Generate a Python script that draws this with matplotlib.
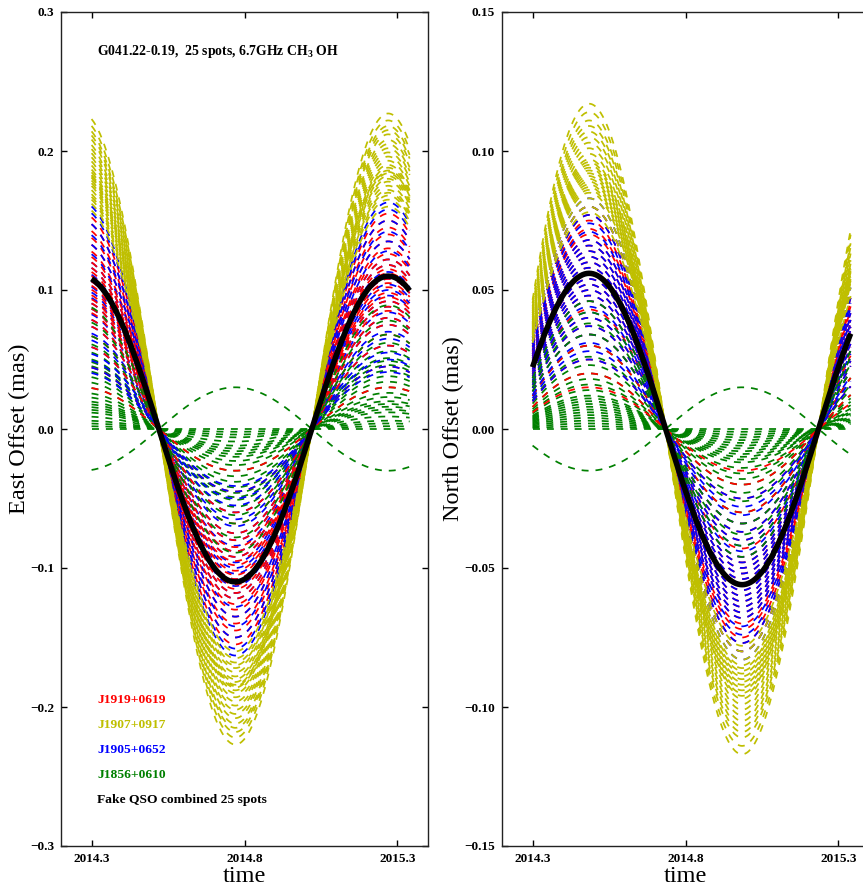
import numpy as np
import matplotlib
matplotlib.use("Agg")
import matplotlib.pyplot as plt

plt.rcParams['font.family'] = ['Liberation Serif', 'DejaVu Serif']
plt.rcParams['mathtext.fontset'] = 'custom'
plt.rcParams['mathtext.rm'] = 'Liberation Serif:bold'
plt.rcParams['mathtext.default'] = 'rm'

# ---------------- data ----------------
calibrators = ['J1919+0619', 'J1907+0917', 'J1905+0652', 'J1856+0610']
cal_colors = ['#ff0000', '#bfbf00', '#0000ff', '#008000']

# parallax-curve amplitudes (mas) of the 25 spots, per calibrator
east_red = [0.155, 0.150, 0.145, 0.140, 0.135, 0.130, 0.126, 0.122, 0.118, 0.115,
            0.112, 0.108, 0.105, 0.102, 0.098, 0.095, 0.092, 0.088, 0.085, 0.080,
            0.075, 0.068, 0.060, 0.045, 0.030]
east_yellow = [0.227, 0.222, 0.218, 0.215, 0.212, 0.208, 0.205, 0.202, 0.199, 0.196,
               0.193, 0.190, 0.188, 0.186, 0.185, 0.184, 0.182, 0.180, 0.178, 0.175,
               0.172, 0.170, 0.168, 0.165, 0.160]
east_blue = [0.163, 0.158, 0.150, 0.142, 0.135, 0.128, 0.122, 0.118, 0.113, 0.108,
             0.104, 0.100, 0.096, 0.092, 0.088, 0.084, 0.080, 0.075, 0.070, 0.065,
             0.060, 0.055, 0.050, 0.045, 0.041]
east_green = [-0.030, 0.000, 0.002, 0.004, 0.006, 0.009, 0.012, 0.014, 0.016, 0.018,
              0.020, 0.023, 0.026, 0.030, 0.034, 0.038, 0.042, 0.046, 0.049, 0.051,
              0.056, 0.062, 0.068, 0.078, 0.089]

north_red = [0.080, 0.077, 0.075, 0.072, 0.070, 0.068, 0.066, 0.064, 0.062, 0.060,
             0.058, 0.056, 0.054, 0.052, 0.050, 0.048, 0.046, 0.043, 0.040, 0.037,
             0.034, 0.030, 0.025, 0.020, 0.015]
north_yellow = [0.117, 0.114, 0.111, 0.109, 0.107, 0.105, 0.103, 0.101, 0.099, 0.097,
                0.096, 0.095, 0.094, 0.093, 0.092, 0.091, 0.090, 0.089, 0.088, 0.087,
                0.086, 0.085, 0.083, 0.080, 0.078]
north_blue = [0.083, 0.080, 0.077, 0.074, 0.071, 0.068, 0.066, 0.064, 0.062, 0.060,
              0.058, 0.056, 0.054, 0.052, 0.050, 0.048, 0.046, 0.044, 0.042, 0.040,
              0.037, 0.034, 0.031, 0.028, 0.025]
north_green = [-0.015, 0.000, 0.001, 0.002, 0.003, 0.004, 0.005, 0.006, 0.007, 0.008,
               0.009, 0.010, 0.011, 0.012, 0.014, 0.016, 0.018, 0.020, 0.023, 0.026,
               0.030, 0.034, 0.038, 0.042, 0.046]

combined_east_amp = 0.110
combined_north_amp = 0.056
east_zero_epoch = 2015.02    # rising zero crossing of East offset (yr)
north_zero_epoch = 2014.235  # rising zero crossing of North offset (yr)
t_start, t_end = 2014.30, 2015.34

xticks = [2014.3, 2014.8, 2015.3]
xtick_labels = ['2014.3', '2014.8', '2015.3']
east_yticks = [-0.3, -0.2, -0.1, 0.0, 0.1, 0.2, 0.3]
east_ytick_labels = ['\u22120.3', '\u22120.2', '\u22120.1', '0.0', '0.1', '0.2', '0.3']
north_yticks = [-0.15, -0.10, -0.05, 0.00, 0.05, 0.10, 0.15]
north_ytick_labels = ['\u22120.15', '\u22120.10', '\u22120.05', '0.00', '0.05', '0.10', '0.15']

title_text = 'G041.22-0.19,  25 spots, 6.7GHz CH$_3$ OH'
combined_label = 'Fake QSO combined 25 spots'

# ---------------- plot ----------------
t = np.linspace(t_start, t_end, 300)
east_phase = np.sin(2 * np.pi * (t - east_zero_epoch))
north_phase = np.sin(2 * np.pi * (t - north_zero_epoch))

east_sets = [east_red, east_yellow, east_blue, east_green]
north_sets = [north_red, north_yellow, north_blue, north_green]

W, H = 863, 886
fig = plt.figure(figsize=(W / 100, H / 100), dpi=100)
ax_w = (428 - 61) / W
ax_h = (846 - 12) / H
ax_b = (H - 846) / H
axE = fig.add_axes([61 / W, ax_b, ax_w, ax_h])
axN = fig.add_axes([502 / W, ax_b, ax_w, ax_h])

for ax, sets, phase, amp_c in [(axE, east_sets, east_phase, combined_east_amp),
                               (axN, north_sets, north_phase, combined_north_amp)]:
    for i in range(25):
        for c, s in enumerate(sets):
            ax.plot(t, s[i] * phase, color=cal_colors[c], lw=1.25,
                    linestyle=(0, (4, 4)))
    ax.plot(t, amp_c * phase, color='black', lw=4.0, solid_capstyle='butt')
    ax.set_xlim(2014.2, 2015.4)
    ax.set_xticks(xticks, labels=xtick_labels)
    ax.tick_params(direction='in', top=True, right=True, length=4, width=1,
                   labelsize=9.5, pad=5)
    ax.set_xlabel('time', fontsize=17.5, labelpad=1)
    for sp in ax.spines.values():
        sp.set_linewidth(1.0)
        sp.set_color('#222222')

axE.set_ylim(-0.3, 0.3)
axE.set_yticks(east_yticks, labels=east_ytick_labels)
axN.set_ylim(-0.15, 0.15)
axN.set_yticks(north_yticks, labels=north_ytick_labels)
for ax in (axE, axN):
    for lab in ax.get_xticklabels() + ax.get_yticklabels():
        lab.set_fontweight('bold')
axE.set_ylabel('East Offset (mas)', fontsize=17.5, labelpad=0)
axN.set_ylabel('North Offset (mas)', fontsize=17.5, labelpad=0)

axE.text(0.098, 0.953, title_text, transform=axE.transAxes, fontsize=9.9,
         fontweight='bold', va='center', ha='left')

legend_labels = calibrators + [combined_label]
legend_colors = cal_colors + ['black']
for k, (lab, col) in enumerate(zip(legend_labels, legend_colors)):
    axE.text(0.098, (846 - 700 - 25 * k) / 834, lab, transform=axE.transAxes,
             fontsize=9.7, fontweight='bold', color=col, va='center', ha='left')

fig.savefig('out.png', dpi=100)
